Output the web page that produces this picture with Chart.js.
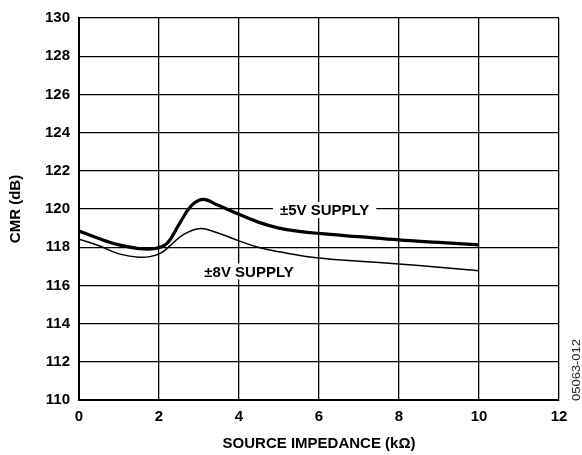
<!DOCTYPE html>
<html>
<head>
<meta charset="utf-8">
<script src="https://cdn.jsdelivr.net/npm/chart.js@4"></script>
<style>
html,body{margin:0;padding:0;background:#fff;}
canvas{display:block;}
</style>
</head>
<body>
<canvas id="c" width="582" height="455"></canvas>
<script>
// Source impedance (kΩ) and CMR (dB) values
const x5V = [0, 0.5, 1, 1.5, 1.9, 2.2, 2.5, 2.8, 3.1, 3.45, 4, 4.5, 5, 5.5, 6, 7, 8, 9, 10];
const y5V = [118.85, 118.45, 118.12, 117.93, 117.93, 118.2, 119.2, 120.15, 120.5, 120.22, 119.72, 119.3, 119.0, 118.83, 118.72, 118.55, 118.38, 118.25, 118.12];
const x8V = [0, 0.5, 1, 1.5, 1.8, 2.05, 2.3, 2.6, 3.0, 3.4, 4, 4.5, 5, 6, 7, 8, 9, 10];
const y8V = [118.42, 118.08, 117.65, 117.48, 117.52, 117.7, 118.12, 118.65, 118.97, 118.8, 118.33, 117.98, 117.76, 117.43, 117.27, 117.12, 116.95, 116.77];
const xTicks = [0, 2, 4, 6, 8, 10, 12];
const yTicks = [110, 112, 114, 116, 118, 120, 122, 124, 126, 128, 130];
const seriesLabels = ['±5V SUPPLY', '±8V SUPPLY'];
const labelPos = [{x: 6.14, y: 119.95}, {x: 4.25, y: 116.73}];
const xTitle = 'SOURCE IMPEDANCE (kΩ)';
const yTitle = 'CMR (dB)';
const figCode = '05063-012';

const FONT = 'Arial, "Liberation Sans", Helvetica, sans-serif';

function pts(xs, ys) { return xs.map((x, i) => ({x: x, y: ys[i]})); }

const annot = {
  id: 'annot',
  afterDraw(chart) {
    const ctx = chart.ctx;
    const xs = chart.scales.x, ys = chart.scales.y;
    ctx.save();
    ctx.font = 'bold 15px ' + FONT;
    ctx.textAlign = 'center';
    ctx.textBaseline = 'middle';
    labelPos.forEach((p, i) => {
      const px = xs.getPixelForValue(p.x), py = ys.getPixelForValue(p.y);
      const w = ctx.measureText(seriesLabels[i]).width;
      ctx.fillStyle = '#fff';
      ctx.fillRect(px - w / 2 - 7, py - 8, w + 14, 16);
      ctx.fillStyle = '#000';
      ctx.fillText(seriesLabels[i], px, py + 1);
    });
    ctx.font = '10px ' + FONT;
    ctx.fillStyle = '#222';
    const cw = ctx.measureText(figCode).width;
    ctx.translate(577, 370);
    ctx.rotate(-Math.PI / 2);
    ctx.scale(62 / cw, 1);
    ctx.fillText(figCode, 0, 0);
    ctx.restore();
  }
};

new Chart(document.getElementById('c'), {
  type: 'line',
  data: {
    datasets: [
      {label: seriesLabels[0], data: pts(x5V, y5V), borderColor: '#000', borderWidth: 3.2, pointRadius: 0, tension: 0.4, fill: false},
      {label: seriesLabels[1], data: pts(x8V, y8V), borderColor: '#000', borderWidth: 1.5, pointRadius: 0, tension: 0.4, fill: false}
    ]
  },
  options: {
    responsive: false,
    animation: false,
    devicePixelRatio: 1,
    layout: {padding: {left: 0, right: 23, top: 16, bottom: 0}},
    plugins: {legend: {display: false}, tooltip: {enabled: false}},
    scales: {
      x: {
        type: 'linear', min: 0, max: 12,
        afterFit(s) { s.height = 55; },
        afterBuildTicks(s) { s.ticks = xTicks.map(v => ({value: v})); },
        grid: {color: '#000', lineWidth: 1.3, drawTicks: false},
        border: {color: '#000', width: 2},
        ticks: {color: '#000', padding: 8, font: {family: FONT, size: 15, weight: 'bold'}, maxRotation: 0},
        title: {display: true, text: xTitle, color: '#000', font: {family: FONT, size: 15, weight: 'bold'}, padding: {top: 0, bottom: 2}}
      },
      y: {
        type: 'linear', min: 110, max: 130,
        afterFit(s) { s.width = 79; },
        afterBuildTicks(s) { s.ticks = yTicks.map(v => ({value: v})); },
        grid: {color: '#000', lineWidth: 1.3, drawTicks: false},
        border: {color: '#000', width: 2},
        ticks: {color: '#000', padding: 9, font: {family: FONT, size: 15, weight: 'bold'}},
        title: {display: true, text: yTitle, color: '#000', font: {family: FONT, size: 15, weight: 'bold'}, padding: {top: 7, bottom: 0}}
      }
    }
  },
  plugins: [annot]
});
</script>
</body>
</html>
